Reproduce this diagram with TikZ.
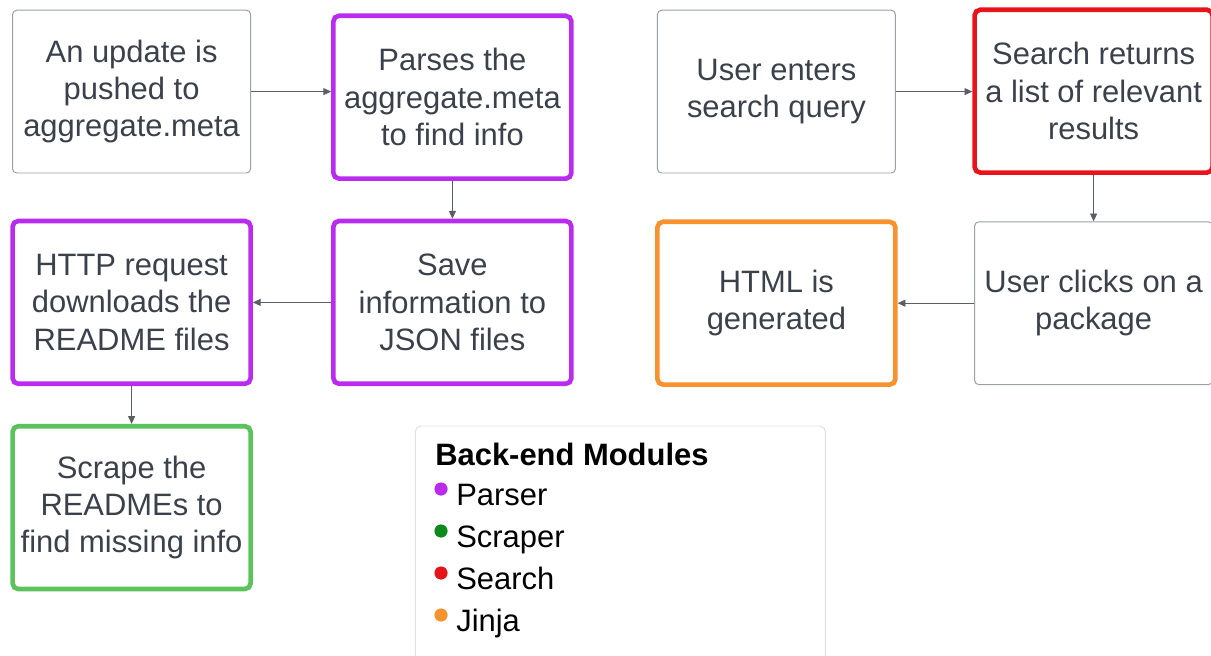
\documentclass[tikz,border=0pt]{standalone}
\usepackage{fontspec}
\setmainfont{Liberation Sans}
\usetikzlibrary{arrows.meta,positioning}
\definecolor{FlowInk}{HTML}{3A414A}
\definecolor{FlowGrey}{HTML}{9AA0A6}
\definecolor{ArrowGrey}{HTML}{5A5F66}
\definecolor{ParserPurple}{HTML}{B92CEF}
\definecolor{ScraperGreen}{HTML}{5BC35C}
\definecolor{ScraperDot}{HTML}{0A8A1A}
\definecolor{SearchRed}{HTML}{E8141B}
\definecolor{JinjaOrange}{HTML}{F7922F}
\definecolor{LegendEdge}{HTML}{DDE1E6}

\begin{document}
\begin{tikzpicture}[
    box/.style={
      draw=FlowGrey, line width=0.7pt, rounded corners=3pt,
      minimum width=5.95cm, minimum height=4.07cm, inner sep=0pt,
      font=\fontsize{22}{26.6}\selectfont, align=center, text=FlowInk
    },
    modbox/.style={box, line width=3.3pt, rounded corners=4pt},
    arr/.style={-{Triangle[length=5.5pt,width=5pt]}, line width=0.6pt, color=ArrowGrey},
    legtext/.style={anchor=base west, inner sep=0pt, text=black,
      font=\fontsize{22}{26.6}\selectfont},
    legdot/.style={circle, inner sep=0pt, minimum size=0.33cm}
  ]
  \useasboundingbox (0,0) rectangle (30.275,-16.4);

  % Back-end: update pipeline
  \node[box] (update) at (3.29, -2.29) {An update is\\pushed to\\aggregate.meta};
  \node[modbox, draw=ParserPurple] (parse) at (11.31, -2.43) {Parses the\\aggregate.meta\\to find info};
  \node[modbox, draw=ParserPurple] (save) at (11.31, -7.56) {Save\\information to\\JSON files};
  \node[modbox, draw=ParserPurple] (http) at (3.29, -7.56) {HTTP request\\downloads the\\README files};
  \node[modbox, draw=ScraperGreen] (scrape) at (3.29, -12.69) {Scrape the\\READMEs to\\find missing info};

  % Front-end: user side
  \node[box] (query) at (19.41, -2.29) {User enters\\search query};
  \node[modbox, draw=SearchRed] (results) at (27.34, -2.28) {Search returns\\a list of relevant\\results};
  \node[box] (clicks) at (27.34, -7.58) {User clicks on a\\package};
  \node[modbox, draw=JinjaOrange] (html) at (19.41, -7.58) {HTML is\\generated};

  % Arrows
  \draw[arr] (update.east) -- (update.east -| parse.west);
  \draw[arr] (parse) -- (save);
  \draw[arr] (save) -- (http);
  \draw[arr] (http) -- (scrape);
  \draw[arr] (query.east) -- (query.east -| results.west);
  \draw[arr] (results) -- (clicks);
  \draw[arr] (clicks) -- (html);

  % Legend
  \node[draw=LegendEdge, line width=0.7pt, rounded corners=4pt,
        minimum width=10.25cm, minimum height=6.3cm] (legend) at (15.51, -13.8) {};
  \node[legtext, font=\fontsize{22}{26.6}\selectfont\bfseries] (legtitle) at (10.875, -11.625) {Back-end Modules};
  \node[legdot, fill=ParserPurple] (dparser) at (11.025, -12.225) {};
  \node[legtext] (lparser) at (11.4, -12.625) {Parser};
  \node[legdot, fill=ScraperDot] (dscraper) at (11.025, -13.275) {};
  \node[legtext] (lscraper) at (11.4, -13.675) {Scraper};
  \node[legdot, fill=SearchRed] (dsearch) at (11.025, -14.325) {};
  \node[legtext] (lsearch) at (11.4, -14.725) {Search};
  \node[legdot, fill=JinjaOrange] (djinja) at (11.025, -15.375) {};
  \node[legtext] (ljinja) at (11.4, -15.775) {Jinja};

\end{tikzpicture}
\end{document}
